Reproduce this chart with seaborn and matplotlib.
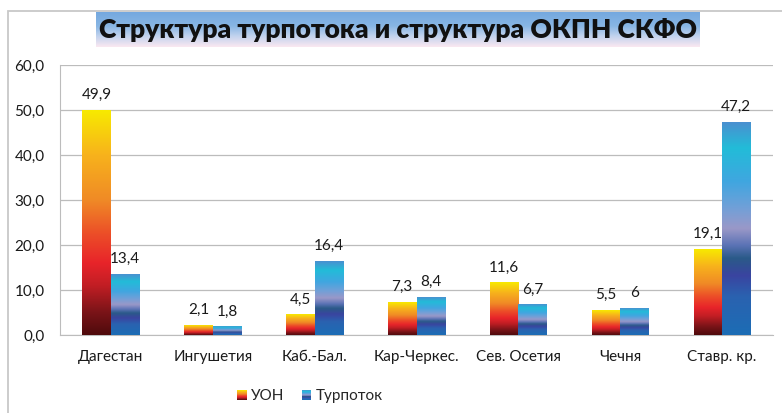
import matplotlib
matplotlib.use('Agg')
import matplotlib.pyplot as plt
import numpy as np
import pandas as pd
import seaborn as sns
from matplotlib.colors import LinearSegmentedColormap
from matplotlib.patches import Rectangle
from matplotlib.legend_handler import HandlerBase

# data
regions = ['Дагестан', 'Ингушетия', 'Каб.-Бал.', 'Кар-Черкес.', 'Сев. Осетия', 'Чечня', 'Ставр. кр.']
uon = [49.9, 2.1, 4.5, 7.3, 11.6, 5.5, 19.1]
turpotok = [13.4, 1.8, 16.4, 8.4, 6.7, 6, 47.2]
series = ['УОН', 'Турпоток']
title = 'Структура турпотока и структура ОКПН СКФО'
yticks = [0, 10, 20, 30, 40, 50, 60]

df = pd.DataFrame({
    'region': regions * 2,
    'value': uon + turpotok,
    'series': [series[0]] * len(regions) + [series[1]] * len(regions),
})

# gradients, bottom -> top
cmap_uon = LinearSegmentedColormap.from_list('uon', [
    (0.0, '#4f0a0c'), (0.1, '#7a1418'), (0.22, '#c21e24'), (0.32, '#e8242a'),
    (0.45, '#ec4e28'), (0.6, '#f08a26'), (0.8, '#f7b21c'), (1.0, '#f8ea00')])
cmap_tur = LinearSegmentedColormap.from_list('tur', [
    (0.0, '#1c6db5'), (0.18, '#2a62b0'), (0.28, '#3a44a0'), (0.36, '#2a5a88'),
    (0.42, '#5a72b5'), (0.5, '#9a98c8'), (0.6, '#70a0d8'), (0.72, '#40a6e0'),
    (0.88, '#22bcd8'), (1.0, '#4a90d0')])
cmaps = [cmap_uon, cmap_tur]

sns.set_style('white')
plt.rcParams['font.family'] = ['Lato', 'Open Sans', 'DejaVu Sans']

fig = plt.figure(figsize=(7.82, 4.13), dpi=100)
ax = fig.add_axes([60 / 782, 1 - 335 / 413, 713 / 782, 270 / 413])

sns.barplot(data=df, x='region', y='value', hue='series', width=0.56,
            palette=['#e8242a', '#2070b8'], saturation=1, ax=ax, legend=False)
xlim = ax.get_xlim()

grad = np.linspace(0, 1, 256).reshape(-1, 1)
for cont, cm in zip(ax.containers, cmaps):
    for bar in cont:
        x0, w, h = bar.get_x(), bar.get_width(), bar.get_height()
        bar.set_facecolor('none')
        bar.set_edgecolor('none')
        ax.imshow(grad, extent=[x0, x0 + w, 0, h], origin='lower', aspect='auto',
                  cmap=cm, zorder=3, interpolation='bicubic')

def fmt(v):
    return str(int(v)) if float(v).is_integer() else f'{v:.1f}'.replace('.', ',')

for cont, vals in zip(ax.containers, [uon, turpotok]):
    ax.bar_label(cont, labels=[fmt(v) for v in vals], padding=6, fontsize=11, color='#1a1a1a')

ax.set_xlim(xlim)
ax.set_ylim(0, 60)
ax.set_yticks(yticks)
ax.set_yticklabels([f'{v:.1f}'.replace('.', ',') for v in yticks])
ax.set_xlabel('')
ax.set_ylabel('')
ax.yaxis.grid(True, color='#bcbcbc', linewidth=0.9)
ax.set_axisbelow(True)
for s in ['top', 'right']:
    ax.spines[s].set_visible(False)
ax.spines['left'].set_color('#bcbcbc')
ax.spines['bottom'].set_color('#bcbcbc')
ax.tick_params(axis='both', length=0, labelsize=11, colors='#1a1a1a')
ax.tick_params(axis='y', pad=11)
ax.tick_params(axis='x', pad=11)


class GradHandler(HandlerBase):
    def __init__(self, cm):
        super().__init__()
        self.cm = cm

    def create_artists(self, legend, orig_handle, xdescent, ydescent, width, height, fontsize, trans):
        n = 10
        arts = []
        for k in range(n):
            r = Rectangle((-xdescent, -ydescent + height * k / n), width, height / n,
                          facecolor=self.cm((k + 0.5) / n), edgecolor='none', transform=trans)
            arts.append(r)
        return arts


handles = [Rectangle((0, 0), 1, 1), Rectangle((0, 0), 1, 1)]
fig.legend(handles, series, handler_map={handles[0]: GradHandler(cmap_uon), handles[1]: GradHandler(cmap_tur)},
           loc='center', bbox_to_anchor=(310 / 782, 1 - 396 / 413), ncol=2, frameon=False,
           fontsize=11, handlelength=0.65, handleheight=0.65, handletextpad=0.3, columnspacing=1.1)

# outer frame (top and left edges visible)
fig.add_artist(Rectangle((8 / 782, -0.1), 1.2, 1 - 11 / 413 + 0.1, transform=fig.transFigure,
                         facecolor='none', edgecolor='#c8c8c8', linewidth=1.3))

# title box with gradient
tax = fig.add_axes([96 / 782, 1 - 47 / 413, 604 / 782, 35 / 413])
tgrad = LinearSegmentedColormap.from_list('tg', [(0, '#fbe8f1'), (0.3, '#c4d4ee'), (0.6, '#88b6e4'), (1, '#74a8df')])
tax.imshow(grad, extent=[0, 1, 0, 1], origin='lower', aspect='auto', cmap=tgrad)
tax.set_xlim(0, 1)
tax.set_ylim(0, 1)
tax.axis('off')
tax.text(0.5, 0.5, title, ha='center', va='center', fontsize=19, fontweight='heavy', color='#111111')

fig.savefig('out.png', dpi=100)
